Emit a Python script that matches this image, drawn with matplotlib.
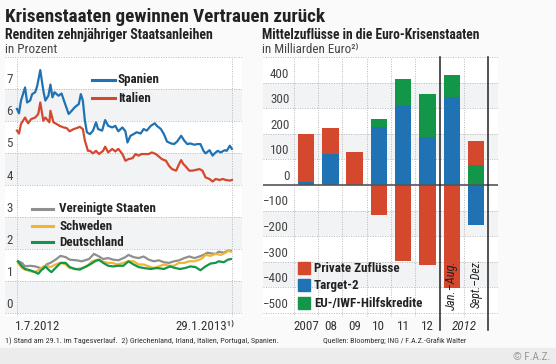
import matplotlib.pyplot as plt
import matplotlib.font_manager as fm
from matplotlib.patches import Rectangle
from matplotlib.transforms import blended_transform_factory as blend

# --- data -------------------------------------------------------------
# Renditen (in Prozent), Tage seit 1.7.2012
es_days = [0, 2, 4, 8, 10, 13, 15, 18, 20, 23, 26, 28, 31, 33, 35, 37, 41, 44, 47, 51,
           54, 57, 61, 63, 65, 67, 69, 72, 75, 78, 80, 84, 87, 90, 94, 97, 100, 104, 107, 109,
           112, 115, 118, 122, 125, 128, 132, 136, 138, 142, 145, 148, 152, 155, 158, 162, 165, 168, 171, 175,
           178, 181, 184, 186, 190, 193, 195, 198, 201, 205, 207, 210, 212]
spanien = [6.38, 6.24, 6.64, 7.05, 6.58, 6.64, 6.84, 6.90, 7.10, 7.59, 6.95, 6.64, 6.79, 7.14, 6.74, 6.90, 6.79, 6.86, 6.58, 6.22,
           6.32, 6.43, 6.53, 6.84, 6.64, 6.01, 5.65, 5.59, 5.70, 5.96, 5.75, 5.70, 6.03, 5.85, 5.80, 5.85, 5.68, 5.80, 5.68, 5.33,
           5.54, 5.59, 5.65, 5.61, 5.75, 5.70, 5.85, 5.93, 5.85, 5.75, 5.59, 5.36, 5.30, 5.28, 5.36, 5.54, 5.39, 5.28, 5.30, 5.26,
           5.28, 5.28, 5.07, 4.99, 5.09, 4.92, 4.99, 5.07, 5.02, 5.09, 5.07, 5.23, 5.13]

it_days = [0, 2, 4, 8, 11, 14, 18, 21, 23, 26, 28, 32, 33, 36, 39, 42, 46, 49, 52, 56,
           59, 62, 65, 67, 70, 72, 75, 78, 81, 85, 87, 90, 94, 97, 100, 104, 107, 110, 114, 117,
           120, 123, 127, 130, 133, 137, 140, 143, 147, 150, 153, 157, 160, 162, 164, 166, 170, 173, 176, 180,
           183, 186, 190, 193, 196, 200, 203, 206, 210, 212]
italien = [5.70, 5.61, 5.91, 6.11, 5.93, 6.06, 6.11, 6.22, 6.58, 6.01, 6.11, 5.96, 6.32, 5.96, 5.91, 5.85, 5.80, 5.78, 5.68, 5.75,
           5.78, 5.82, 5.75, 5.39, 5.07, 5.07, 4.99, 5.07, 4.97, 5.07, 5.20, 5.02, 5.13, 5.05, 5.13, 4.97, 4.76, 4.81, 4.84, 4.97,
           4.92, 4.97, 4.97, 4.97, 5.02, 4.97, 4.89, 4.81, 4.76, 4.60, 4.50, 4.45, 4.66, 4.78, 4.66, 4.60, 4.45, 4.45, 4.47, 4.50,
           4.45, 4.24, 4.19, 4.11, 4.19, 4.16, 4.19, 4.16, 4.14, 4.16]

us_days = [1, 5, 8, 13, 18, 23, 26, 29, 33, 38, 43, 48, 52, 59, 64, 71, 76, 81, 85, 90,
           95, 100, 107, 110, 115, 120, 125, 130, 135, 140, 145, 150, 155, 160, 165, 170, 175, 180, 184, 188,
           191, 196, 199, 204, 208, 211]
usa = [1.62, 1.57, 1.46, 1.48, 1.46, 1.41, 1.38, 1.52, 1.57, 1.67, 1.79, 1.75, 1.67, 1.65, 1.62, 1.69, 1.85, 1.77, 1.69, 1.72,
       1.67, 1.65, 1.75, 1.82, 1.75, 1.72, 1.77, 1.67, 1.62, 1.65, 1.59, 1.57, 1.62, 1.65, 1.72, 1.77, 1.72, 1.77, 1.82, 1.89,
       1.87, 1.85, 1.92, 1.89, 1.95, 1.95]

se_days = [1, 5, 8, 13, 18, 23, 26, 29, 33, 38, 43, 48, 52, 59, 64, 69, 74, 79, 84, 89,
           94, 99, 105, 110, 115, 120, 125, 130, 135, 140, 145, 150, 155, 160, 165, 170, 175, 180, 183, 186,
           191, 196, 201, 206, 209, 211]
schweden = [1.57, 1.41, 1.36, 1.31, 1.28, 1.38, 1.46, 1.48, 1.44, 1.52, 1.57, 1.52, 1.41, 1.38, 1.41, 1.46, 1.62, 1.67, 1.62, 1.57,
            1.57, 1.52, 1.57, 1.62, 1.62, 1.52, 1.52, 1.46, 1.41, 1.46, 1.52, 1.48, 1.48, 1.57, 1.57, 1.62, 1.62, 1.67, 1.72, 1.82,
            1.79, 1.85, 1.82, 1.89, 1.95, 1.92]

de_days = [1, 5, 8, 13, 18, 21, 24, 28, 31, 34, 38, 43, 48, 52, 57, 62, 67, 72, 77, 81,
           85, 90, 95, 100, 105, 110, 115, 120, 125, 132, 138, 145, 151, 156, 161, 166, 171, 176, 181, 186,
           191, 196, 199, 204, 208, 211]
deutschland = [1.62, 1.46, 1.38, 1.34, 1.28, 1.23, 1.34, 1.46, 1.36, 1.28, 1.41, 1.57, 1.57, 1.44, 1.38, 1.36, 1.44, 1.52, 1.62, 1.67,
               1.57, 1.48, 1.46, 1.48, 1.48, 1.62, 1.52, 1.44, 1.41, 1.38, 1.41, 1.38, 1.46, 1.41, 1.38, 1.41, 1.46, 1.44, 1.34, 1.46,
               1.55, 1.57, 1.62, 1.59, 1.67, 1.69]

# Mittelzufluesse (Mrd. Euro)
kategorien = ['2007', '08', '09', '10', '11', '12', '', '']
private = [191, 99, 127, -119, -299, -312, -403, 92]
target2 = [10, 122, 0, 225, 309, 187, 342, -156]
hilfskredite = [0, 0, 0, 32, 104, 168, 89, 79]

# --- font: look for a narrow / condensed sans -------------------------
cond = {}
for f in fm.fontManager.ttflist:
    if 'condensed' in str(f.stretch) or 'Narrow' in f.name or 'Condensed' in f.name:
        cond.setdefault(f.name, f.stretch)
pick, stretch = 'DejaVu Sans', 'normal'
for name in ['Liberation Sans Narrow', 'Roboto Condensed', 'Open Sans Condensed', 'Noto Sans',
             'Noto Sans Condensed', 'DejaVu Sans', 'DejaVu Sans Condensed', 'Open Sans']:
    if name in cond:
        pick, stretch = name, cond[name]
        break
else:
    for name in cond:
        if 'CJK' not in name and 'Mono' not in name and 'Serif' not in name:
            pick, stretch = name, cond[name]
            break

plt.rcParams['font.family'] = [pick, 'DejaVu Sans']
plt.rcParams['font.stretch'] = stretch

# --- style ------------------------------------------------------------
W, H = 556, 364
BLUE = '#1f72b4'
RED = '#d4482d'
GREEN = '#13964a'
GRAY = '#8f8f8f'
YELLOW = '#f3b530'
BAND = '#f1f3f5'
GRID = '#b8b8b8'
TXT = '#222222'


def fx(x):
    return x / W


def fy(y):
    return 1 - y / H


fig = plt.figure(figsize=(W / 100, H / 100), dpi=100, facecolor='#fafafa')
fig.patches.append(Rectangle((0, 0), 1, fy(348), transform=fig.transFigure,
                             color='#ececec', zorder=0))
texts = []

# --- left: Renditen ---------------------------------------------------
ax1 = fig.add_axes([fx(5), fy(317), fx(237), fy(57) - fy(317)])
ax1.set_facecolor('white')
ax1.set_xlim(-11.8, 222)
ax1.set_ylim(-0.12, 8)
for lo in [0, 2, 4, 6]:
    ax1.axhspan(lo, lo + 1, color=BAND, lw=0, zorder=0)
for v in range(0, 9):
    ax1.axhline(v, color=GRID, lw=0.7, ls=(0, (1, 1.5)), zorder=1)
for d in [0, 212, 222]:
    ax1.axvline(d, color=GRID, lw=0.7, ls=(0, (1, 1.5)), zorder=1)
lt = blend(ax1.transAxes, ax1.transData)
for v in range(0, 8):
    texts.append(ax1.text(0.02, v + 0.08, str(v), transform=lt, ha='center', va='bottom',
                          fontsize=9.5, color='#444444'))

ax1.plot(us_days, usa, color=GRAY, lw=1.6, zorder=3)
ax1.plot(se_days, schweden, color=YELLOW, lw=1.6, zorder=3)
ax1.plot(de_days, deutschland, color=GREEN, lw=1.6, zorder=4)
ax1.plot(it_days, italien, color=RED, lw=1.6, zorder=3)
ax1.plot(es_days, spanien, color=BLUE, lw=1.6, zorder=4)
for s in ax1.spines.values():
    s.set_visible(False)
ax1.set_xticks([])
ax1.set_yticks([])

# left legends
for (y, lab, col) in [(80, 'Spanien', BLUE), (98, 'Italien', RED)]:
    fig.add_artist(plt.Line2D([fx(92), fx(115)], [fy(y), fy(y)], color=col, lw=2.2))
    texts.append(fig.text(fx(118), fy(y), lab, fontsize=9.5, fontweight='bold', color=TXT,
                          va='center'))
for (y, lab, col) in [(209, 'Vereinigte Staaten', GRAY), (226, 'Schweden', YELLOW),
                      (242, 'Deutschland', GREEN)]:
    fig.add_artist(plt.Line2D([fx(32), fx(53)], [fy(y), fy(y)], color=col, lw=2.2))
    texts.append(fig.text(fx(59), fy(y), lab, fontsize=9.5, fontweight='bold', color=TXT,
                          va='center'))

texts.append(fig.text(fx(15), fy(326), '1.7.2012', fontsize=9.5, color='#333333', va='center'))
texts.append(fig.text(fx(234), fy(326), '29.1.2013\u00b9\u207e', fontsize=9.5, color='#333333',
                      va='center', ha='right'))

# --- right: Mittelzufluesse ------------------------------------------
ax2 = fig.add_axes([fx(263), fy(317), fx(235), fy(57) - fy(317)])
ax2.set_facecolor('white')
ax2.set_xlim(-1.77, 7.9)
ax2.set_ylim(-516, 500)
for lo in [300, 100, -200, -400]:
    ax2.axhspan(lo, lo + 100, color=BAND, lw=0, zorder=0)
for v in range(-500, 501, 100):
    if v != 0:
        ax2.axhline(v, color=GRID, lw=0.7, ls=(0, (1, 1.5)), zorder=1)
for b in [-0.5, 0.5, 1.5, 2.5, 3.5, 4.5, 6.5]:
    ax2.axvline(b, color=GRID, lw=0.7, ls=(0, (1, 1.5)), zorder=1)
rt = blend(ax2.transAxes, ax2.transData)
for v in range(-500, 401, 100):
    lab = str(v).replace('-', '\u2212')
    texts.append(ax2.text(0.112, v + 8, lab, transform=rt, ha='right', va='bottom',
                          fontsize=9.5, color='#444444'))

x = list(range(len(private)))
bw = 0.68
pos_t = [max(t, 0) for t in target2]
neg_t = [min(t, 0) for t in target2]
ax2.bar(x, pos_t, bw, color=BLUE, zorder=2)
ax2.bar(x, neg_t, bw, color=BLUE, zorder=2)
ax2.bar(x, hilfskredite, bw, bottom=pos_t, color=GREEN, zorder=2)
pos_p = [max(p, 0) for p in private]
neg_p = [min(p, 0) for p in private]
base = [t + h for t, h in zip(pos_t, hilfskredite)]
ax2.bar(x, pos_p, bw, bottom=base, color=RED, zorder=2)
ax2.bar(x, neg_p, bw, color=RED, zorder=2)
ax2.axhline(0, color='#555555', lw=1.2, zorder=3)
for b in [5.5, 7.5]:
    ax2.axvline(b, ymin=-0.05, ymax=1, color='#222222', lw=1.1, zorder=3, clip_on=False)
for s in ax2.spines.values():
    s.set_visible(False)
ax2.set_xticks([])
ax2.set_yticks([])

bt = blend(ax2.transData, fig.transFigure)
for i, k in enumerate(kategorien):
    if k:
        texts.append(ax2.text(i, fy(326), k, transform=bt, ha='center', va='center',
                              fontsize=9.5, color='#333333'))
texts.append(ax2.text(6.5, fy(326), '2012', transform=bt, ha='center', va='center',
                      fontsize=9.5, style='italic', color='#333333'))
rot1 = ax2.text(6, fy(285), 'Jan.\u2013Aug.', transform=bt, ha='center', va='center',
                rotation=90, fontsize=9, style='italic', color=TXT)
rot2 = ax2.text(7, fy(283), 'Sept.\u2013Dez.', transform=bt, ha='center', va='center',
                rotation=90, fontsize=9, style='italic', color=TXT)

# right legend
for (y, lab, col) in [(268, 'Private Zuflüsse', RED), (285, 'Target-2', BLUE),
                      (303, 'EU-/IWF-Hilfskredite', GREEN)]:
    fig.patches.append(Rectangle((fx(298), fy(y + 6)), fx(12), fy(y - 6) - fy(y + 6),
                                 transform=fig.transFigure, color=col, zorder=5))
    texts.append(fig.text(fx(314), fy(y), lab, fontsize=9.5, fontweight='bold', color=TXT,
                          va='center', zorder=6))

# --- titles and notes -------------------------------------------------
title = fig.text(fx(5), fy(22), 'Krisenstaaten gewinnen Vertrauen zurück', fontsize=14,
                 fontweight='bold', color=TXT, va='baseline')
sub1 = fig.text(fx(5), fy(39), 'Renditen zehnjähriger Staatsanleihen', fontsize=10,
                fontweight='bold', color=TXT, va='baseline')
unit1 = fig.text(fx(5), fy(53), 'in Prozent', fontsize=9.5, color='#444444', va='baseline')
sub2 = fig.text(fx(262), fy(39), 'Mittelzuflüsse in die Euro-Krisenstaaten', fontsize=10,
                fontweight='bold', color=TXT, va='baseline')
unit2 = fig.text(fx(262), fy(53), 'in Milliarden Euro\u00b2\u207e', fontsize=9.5,
                 color='#444444', va='baseline')
note1 = fig.text(fx(5), fy(341), '1) Stand am 29.1. im Tagesverlauf.  2) Griechenland, Irland, '
                 'Italien, Portugal, Spanien.', fontsize=7, color='#333333', va='center')
note2 = fig.text(fx(323), fy(341), 'Quellen: Bloomberg; ING / F.A.Z.-Grafik Walter',
                 fontsize=7, color='#333333', va='center')
copy = fig.text(fx(550), fy(357), '© F.A.Z.', fontsize=8, color='#9a9a9a', va='center',
                ha='right')

# scale the texts so that their widths match the reference
r = fig.canvas.get_renderer()
ratio = 323 / title.get_window_extent(r).width
ratio = min(max(ratio, 0.6), 1.3)
for t in texts + [unit1, unit2]:
    t.set_fontsize(t.get_fontsize() * ratio)
for t, w in [(title, 323), (sub1, 208), (sub2, 218), (note1, 277), (note2, 145)]:
    t.set_fontsize(t.get_fontsize() * w / t.get_window_extent(r).width)
for t, hgt in [(rot1, 50), (rot2, 50)]:
    t.set_fontsize(t.get_fontsize() * hgt / t.get_window_extent(r).height)

fig.savefig('out.png', dpi=100, facecolor=fig.get_facecolor())
